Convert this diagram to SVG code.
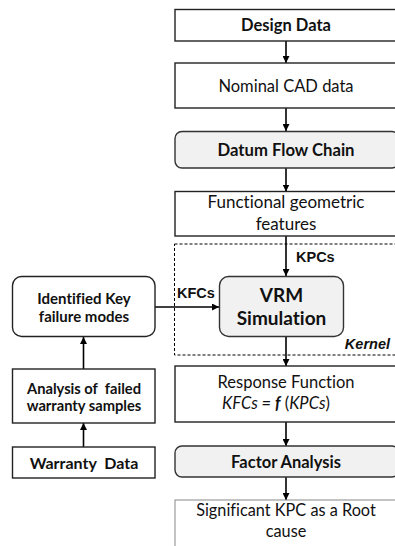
<svg xmlns="http://www.w3.org/2000/svg" width="395" height="546" viewBox="0 0 395 546">
  <defs>
    <marker id="arrow" viewBox="0 0 10 10" refX="10" refY="5" markerWidth="7" markerHeight="7" markerUnits="userSpaceOnUse" orient="auto">
      <path d="M0,0 L10,5 L0,10 z" fill="#000"/>
    </marker>
    <style>
      .box { fill: #fff; stroke: #222; stroke-width: 1.4; }
      .soft { fill: #f1f1f1; stroke: #333; stroke-width: 1.4; }
      .light { fill: #fff; stroke: #888; stroke-width: 1; }
      .t { font-family: Lato, "Open Sans", "Liberation Sans", sans-serif; fill: #111; text-anchor: middle; font-variant-ligatures: none; }
      .b { font-weight: bold; }
      .lbl { font-family: "Liberation Sans", Arial, sans-serif; font-weight: bold; fill: #111; font-size: 14.5px; }
      .wire { stroke: #000; stroke-width: 1.6; fill: none; marker-end: url(#arrow); }
    </style>
  </defs>

  <!-- kernel boundary -->
  <g id="kernel">
    <rect x="174.5" y="244" width="230" height="111" fill="none" stroke="#000" stroke-width="1" stroke-dasharray="3,2"/>
    <text x="390" y="349" class="lbl" font-size="13.5" font-style="italic" text-anchor="end">Kernel</text>
  </g>

  <g id="connectors">
    <line class="wire" x1="286" y1="41" x2="286" y2="63"/>
    <line class="wire" x1="286" y1="108" x2="286" y2="131"/>
    <line class="wire" x1="286" y1="168" x2="286" y2="191.5"/>
    <line class="wire" x1="286" y1="236" x2="286" y2="276"/>
    <line class="wire" x1="155" y1="307" x2="219" y2="307"/>
    <line class="wire" x1="286" y1="337" x2="286" y2="366"/>
    <line class="wire" x1="286" y1="422" x2="286" y2="446"/>
    <line class="wire" x1="286" y1="477" x2="286" y2="500"/>
    <line class="wire" x1="83.5" y1="369" x2="83.5" y2="337"/>
    <line class="wire" x1="83.5" y1="447" x2="83.5" y2="423"/>
    <text x="296" y="262" class="lbl">KPCs</text>
    <text x="177" y="298" class="lbl">KFCs</text>
  </g>

  <g id="design-data">
    <rect class="box" x="175" y="9.5" width="224" height="31.5"/>
    <text class="t b" x="286" y="31" font-size="16.5">Design Data</text>
  </g>

  <g id="nominal-cad">
    <rect class="box" x="175" y="63" width="224" height="45"/>
    <text class="t" x="286" y="91.5" font-size="16.5">Nominal CAD data</text>
  </g>

  <g id="datum-flow-chain">
    <rect class="soft" x="175" y="131.5" width="224" height="36.5" rx="7"/>
    <text class="t b" x="286" y="156" font-size="16.7">Datum Flow Chain</text>
  </g>

  <g id="functional-features">
    <rect class="box" x="175" y="191.5" width="224" height="44.5"/>
    <text class="t" x="286" y="208" font-size="17">Functional geometric</text>
    <text class="t" x="286" y="230" font-size="17">features</text>
  </g>

  <g id="vrm-simulation">
    <rect class="soft" x="219.5" y="276.5" width="124" height="60" rx="9"/>
    <text class="t b" x="281.5" y="302" font-size="19">VRM</text>
    <text class="t b" x="281.5" y="325" font-size="19">Simulation</text>
  </g>

  <g id="key-failure-modes">
    <rect class="box" x="12.5" y="276.5" width="142.5" height="60" rx="9"/>
    <text class="t b" x="84" y="304" font-size="15">Identified Key</text>
    <text class="t b" x="84" y="322" font-size="15">failure modes</text>
  </g>

  <g id="failed-sample-analysis">
    <rect class="box" x="12.5" y="369" width="142.5" height="54"/>
    <text class="t b" x="84" y="394" font-size="14.7" xml:space="preserve">Analysis of  failed</text>
    <text class="t b" x="84" y="411" font-size="14.7">warranty samples</text>
  </g>

  <g id="warranty-data">
    <rect class="box" x="12.5" y="447" width="142.5" height="31"/>
    <text class="t b" x="84" y="468.5" font-size="16" xml:space="preserve">Warranty  Data</text>
  </g>

  <g id="response-function">
    <rect class="box" x="175" y="366" width="224" height="56"/>
    <text class="t" x="286" y="388" font-size="16.5">Response Function</text>
    <text class="t" x="276" y="409" font-size="16.5" xml:space="preserve"><tspan font-style="italic">KFCs = </tspan><tspan font-style="italic" font-weight="bold">f</tspan> (<tspan font-style="italic">KPCs</tspan>)</text>
  </g>

  <g id="factor-analysis">
    <rect class="soft" x="175" y="446" width="224" height="31" rx="7"/>
    <text class="t b" x="286" y="467.5" font-size="16.5">Factor Analysis</text>
  </g>

  <g id="root-cause">
    <rect class="light" x="175" y="500" width="224" height="60"/>
    <text class="t" x="286" y="516" font-size="16.3">Significant KPC as a Root</text>
    <text class="t" x="286" y="537" font-size="16.3">cause</text>
  </g>
</svg>
